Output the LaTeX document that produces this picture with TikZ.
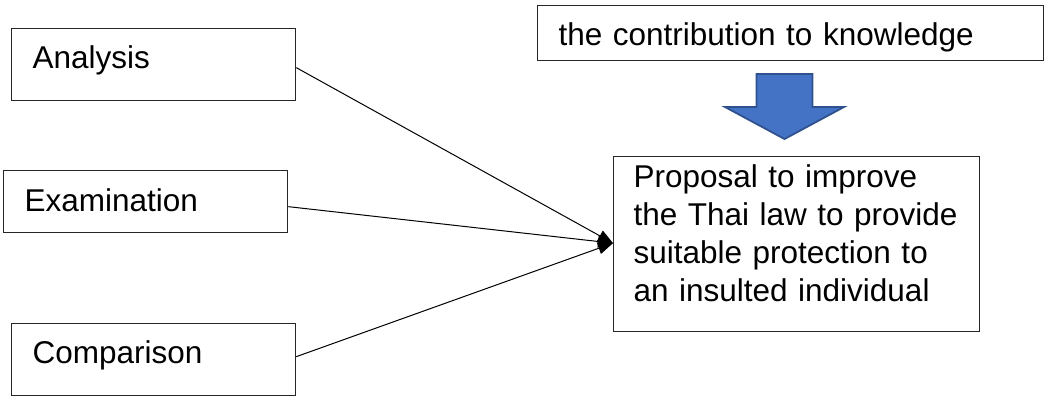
\documentclass[tikz,border=0pt]{standalone}
\usepackage{fontspec}
\setmainfont{Liberation Sans}
\usetikzlibrary{arrows.meta}
\definecolor{arrowfill}{HTML}{4472C4}
\definecolor{arrowline}{HTML}{2F528F}
\definecolor{boxline}{HTML}{262626}
\begin{document}
\begin{tikzpicture}[x=1pt,y=-1pt,
  box/.style={draw=boxline,line width=1.3pt,anchor=north west,inner ysep=0pt,
    inner xsep=21pt,align=left,font=\fontsize{31.5}{37.8}\selectfont},
  link/.style={line width=1pt,-{Triangle[length=15pt,width=12pt]}}]
\useasboundingbox (0,0) rectangle (1045,397);
% source boxes on the left
\node[box,text width=242pt,text height=40pt,text depth=32pt] (ana) at (11,28) {Analysis};
\node[box,text width=242pt,text height=41pt,text depth=21pt] (exa) at (3,170) {Examination};
\node[box,text width=242pt,text height=40pt,text depth=32pt] (com) at (11,323) {Comparison};
% heading box and result box
\node[box,text width=464pt,text height=40pt,text depth=15pt] (kno) at (537,5) {the contribution to knowledge};
\node[box,inner xsep=20pt,text width=326pt,text height=31pt,text depth=144pt] (pro) at (613,156)
  {Proposal to improve\\the Thai law to provide\\suitable protection to\\an insulted individual};
% block arrow between heading and result
\draw[fill=arrowfill,draw=arrowline,line width=1.8pt,line join=miter]
  (756.5,74) -- (812.5,74) -- (812.5,107) -- (844,107) -- (784.5,139)
  -- (725,107) -- (756.5,107) -- cycle;
% connectors converging on the result box
\draw[link] ([yshift=-3pt]ana.east) -- ([yshift=1pt]pro.west);
\draw[link] ([yshift=-5pt]exa.east) -- ([yshift=1pt]pro.west);
\draw[link] ([yshift=3pt]com.east) -- ([yshift=1pt]pro.west);
\end{tikzpicture}
\end{document}
